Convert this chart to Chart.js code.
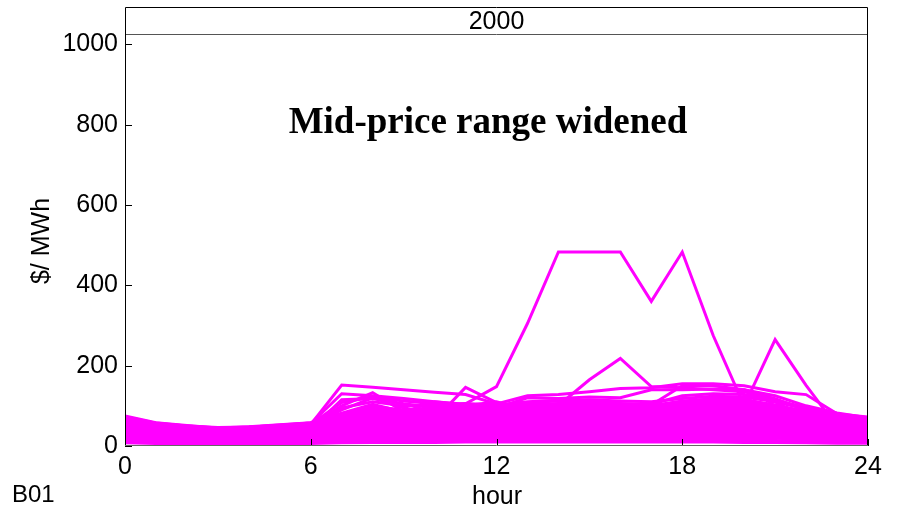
<!DOCTYPE html>
<html>
<head>
<meta charset="utf-8">
<script src="https://cdn.jsdelivr.net/npm/chart.js@4.4.1/dist/chart.umd.min.js"></script>
<style>
  html, body { margin: 0; padding: 0; background: #fff; }
  #wrap { width: 902px; height: 510px; position: relative; }
</style>
</head>
<body>
<div id="wrap"><canvas id="chart" width="902" height="510"></canvas></div>
<script>
"use strict";

// Hours and tick labels
const hours = [0,1,2,3,4,5,6,7,8,9,10,11,12,13,14,15,16,17,18,19,20,21,22,23,24];
const xTicks = [0, 6, 12, 18, 24];
const yTicks = [0, 200, 400, 600, 800, 1000];

// Outlier days
const spikeHigh  = [60,48,42,40,42,46,52,75,95,90,95,105,148,305,483,483,483,360,483,275,100,265,151,48,55];
const spikeMid   = [55,45,40,37,39,43,48,70,85,80,85,90,92,96,101,165,218,148,145,140,135,115,90,70,62];
const earlyPeak  = [65,52,46,42,44,48,54,152,146,140,134,128,105,125,128,135,143,145,155,155,150,135,128,80,72];
const noonPeak   = [50,42,38,35,37,40,45,80,100,88,65,146,108,95,98,100,102,100,110,118,115,100,84,66,58];
const morningBump= [58,47,42,38,40,44,50,100,133,85,110,104,96,100,104,106,104,102,150,150,140,125,100,82,70];

// Main band of days
const band01 = [8,6,5,5,5,5,6,8,9,9,9,10,10,10,10,10,10,10,10,10,9,9,8,7,7];
const band02 = [18,14,12,11,11,12,13,16,18,17,18,19,18,19,20,20,19,19,20,21,20,19,17,15,14];
const band03 = [25,20,18,16,17,18,20,24,28,26,27,28,27,29,30,30,29,29,31,32,31,29,26,22,20];
const band04 = [32,26,23,21,22,23,26,32,38,34,36,37,35,38,40,40,38,38,41,43,42,39,34,29,26];
const band05 = [38,31,28,25,26,28,31,38,46,41,44,45,43,46,48,48,46,46,49,52,51,47,41,35,31];
const band06 = [44,36,32,29,30,32,36,45,55,48,52,54,51,55,57,57,54,54,58,62,61,56,48,41,36];
const band07 = [50,40,36,32,34,36,40,52,63,55,60,62,58,63,66,65,62,62,67,71,70,64,55,47,41];
const band08 = [55,44,40,35,37,40,44,58,70,61,67,70,65,71,74,73,70,69,75,80,79,72,62,52,46];
const band09 = [60,48,43,38,40,43,48,64,78,67,74,77,72,78,82,81,77,76,83,88,87,79,68,57,50];
const band10 = [65,52,46,41,43,47,52,70,86,73,81,84,79,86,90,89,85,83,91,97,96,87,74,62,55];
const band11 = [70,55,49,43,46,50,55,76,95,79,88,92,86,93,97,96,92,90,99,105,104,94,80,66,59];
const band12 = [75,58,51,45,48,53,58,82,104,85,95,99,93,100,104,103,98,96,106,112,112,100,85,70,63];
const band13 = [40,34,30,28,28,30,34,60,90,70,60,80,95,70,60,85,95,70,80,100,90,110,70,50,45];
const band14 = [62,50,44,40,42,46,50,90,120,95,80,100,110,90,100,105,95,100,108,115,118,95,80,60,55];
const band15 = [55,42,38,35,36,38,42,115,118,105,96,102,98,104,106,108,106,100,112,117,115,102,86,68,60];
const band16 = [72,56,48,44,46,50,56,130,125,118,110,102,95,120,118,122,120,140,140,142,140,118,90,72,66];
const band17 = [12,10,8,8,8,8,9,12,14,13,14,15,14,15,15,15,14,14,15,16,15,14,12,11,10];
const band18 = [22,17,15,14,14,15,17,20,23,22,23,24,23,24,25,25,24,24,26,27,26,24,22,19,17];
const band19 = [29,23,21,19,20,21,23,28,33,30,32,33,31,34,35,35,34,34,36,38,37,34,30,26,23];
const band20 = [35,29,26,23,24,26,29,35,42,38,40,41,39,42,44,44,42,42,45,48,47,43,38,32,29];
const band21 = [41,34,30,27,28,30,34,42,51,45,48,50,47,51,53,53,50,50,54,57,56,52,45,38,34];
const band22 = [47,38,34,31,32,34,38,48,59,52,56,58,55,59,62,61,58,58,63,67,66,60,52,44,39];
const band23 = [53,42,38,34,36,38,42,55,67,58,64,66,62,67,70,69,66,66,71,76,75,68,59,50,44];
const band24 = [58,46,42,37,39,42,46,61,74,64,71,74,69,75,78,77,74,73,79,84,83,76,65,55,48];
const band25 = [63,50,45,40,42,45,50,67,82,70,78,81,76,82,86,85,81,80,87,93,92,83,71,60,53];
const band26 = [68,54,48,42,45,49,54,73,91,76,85,88,83,90,94,93,89,87,95,101,100,91,77,64,57];
const band27 = [73,57,50,44,47,52,57,79,100,82,92,96,90,97,101,100,95,93,103,109,108,97,83,68,61];
const band28 = [70,56,50,46,47,51,57,95,110,100,102,106,102,110,114,115,112,110,118,124,122,110,92,74,66];
const band29 = [66,54,47,42,44,48,54,108,122,112,105,100,96,108,112,112,106,104,125,130,128,114,96,76,68];

const allSeries = [
  band01, band02, band03, band04, band05, band06, band07, band08,
  band09, band10, band11, band12, band13, band14, band15, band16,
  band17, band18, band19, band20, band21, band22, band23, band24,
  band25, band26, band27, band28, band29,
  morningBump, noonPeak, earlyPeak, spikeMid, spikeHigh
];

const magenta = "#ff00ff";
const sans = "'Liberation Sans', Arial, sans-serif";

const datasets = allSeries.map((vals) => ({
  data: hours.map((h, i) => ({ x: h, y: vals[i] })),
  borderColor: magenta,
  borderWidth: 3,
  pointRadius: 0,
  tension: 0,
  fill: false,
}));

// Frame, inward ticks, strip and free texts
const decorPlugin = {
  id: "decor",
  afterDatasetsDraw(chart) {
    const { ctx, chartArea: a, scales } = chart;
    const x = scales.x, y = scales.y;
    ctx.save();

    // strip
    const stripY = Math.round(y.getPixelForValue(1025)) + 0.5;
    ctx.strokeStyle = "#555";
    ctx.lineWidth = 1;
    ctx.beginPath();
    ctx.moveTo(a.left, stripY);
    ctx.lineTo(a.right, stripY);
    ctx.stroke();
    ctx.fillStyle = "#000";
    ctx.font = "25px " + sans;
    ctx.textAlign = "center";
    ctx.textBaseline = "middle";
    ctx.fillText("2000", (a.left + a.right) / 2, (a.top + stripY) / 2 + 1);

    // ticks pointing inward
    ctx.strokeStyle = "#000";
    ctx.beginPath();
    yTicks.forEach((v) => {
      const py = Math.round(y.getPixelForValue(v)) + 0.5;
      ctx.moveTo(a.left, py);
      ctx.lineTo(a.left + 7, py);
    });
    xTicks.forEach((v) => {
      const px = Math.round(x.getPixelForValue(v)) + 0.5;
      ctx.moveTo(px, a.bottom);
      ctx.lineTo(px, a.bottom - 7);
    });
    ctx.stroke();

    // frame
    ctx.beginPath();
    ctx.moveTo(a.left + 0.5, a.bottom);
    ctx.lineTo(a.left + 0.5, a.top + 0.5);
    ctx.lineTo(a.right - 0.5, a.top + 0.5);
    ctx.lineTo(a.right - 0.5, a.bottom);
    ctx.stroke();
    ctx.strokeStyle = "#666";
    ctx.beginPath();
    ctx.moveTo(a.left, a.bottom - 0.5);
    ctx.lineTo(a.right, a.bottom - 0.5);
    ctx.stroke();

    // annotation
    ctx.fillStyle = "#000";
    ctx.font = "bold 37px 'Liberation Serif', 'Times New Roman', serif";
    ctx.fillText("Mid-price range widened", 488, 123);

    // axis titles
    ctx.font = "25px " + sans;
    ctx.fillText("hour", 497, 497);
    ctx.textAlign = "left";
    ctx.font = "24px " + sans;
    ctx.fillText("B01", 12, 495);
    ctx.font = "25px " + sans;
    ctx.translate(42, 241);
    ctx.rotate(-Math.PI / 2);
    ctx.textAlign = "center";
    ctx.fillText("$/ MWh", 0, 0);

    ctx.restore();
  },
};

new Chart(document.getElementById("chart"), {
  type: "line",
  data: { datasets },
  options: {
    responsive: false,
    animation: false,
    devicePixelRatio: 1,
    layout: { padding: { left: 0, top: 7, right: 34, bottom: 0 } },
    plugins: { legend: { display: false }, tooltip: { enabled: false } },
    scales: {
      x: {
        type: "linear",
        min: 0,
        max: 24,
        afterBuildTicks: (s) => { s.ticks = xTicks.map((v) => ({ value: v })); },
        afterFit: (s) => { s.height = 64; s.paddingLeft = 0; s.paddingRight = 0; },
        grid: { display: false, drawTicks: false },
        border: { display: false },
        ticks: {
          color: "#000",
          padding: 6,
          maxRotation: 0,
          font: { family: sans, size: 25 },
        },
      },
      y: {
        min: 0,
        max: 1093,
        afterBuildTicks: (s) => { s.ticks = yTicks.map((v) => ({ value: v })); },
        afterFit: (s) => { s.width = 125; s.paddingTop = 0; s.paddingBottom = 0; },
        grid: { display: false, drawTicks: false },
        border: { display: false },
        ticks: {
          color: "#000",
          padding: 7,
          callback: (v) => String(v),
          font: { family: sans, size: 25 },
        },
      },
    },
  },
  plugins: [decorPlugin],
});
</script>
</body>
</html>
